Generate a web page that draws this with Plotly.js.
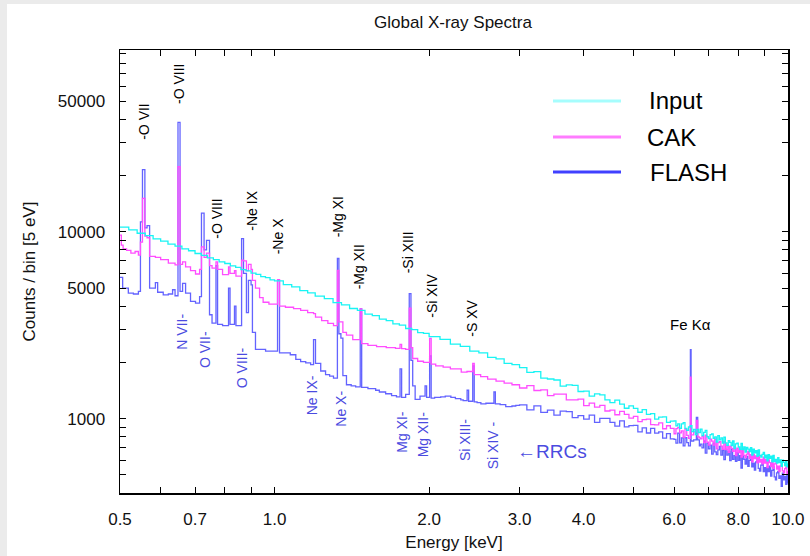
<!DOCTYPE html>
<html>
<head>
<meta charset="utf-8">
<script src="https://cdn.plot.ly/plotly-3.0.1.min.js"></script>
<style>
  html, body { margin: 0; padding: 0; background: #ebebeb; width: 810px; height: 556px; overflow: hidden; }
  #chart { position: absolute; left: 7px; top: 4px; width: 803px; height: 552px; background: #fff; }
</style>
</head>
<body>
<div id="chart"></div>
<script>
// ---------------- DATA ----------------
const xTickVals = [0.5, 0.6, 0.7, 0.8, 0.9, 1, 2, 3, 4, 5, 6, 7, 8, 9, 10];
const xTickText = ['0.5', '', '0.7', '', '', '1.0', '2.0', '3.0', '4.0', '', '6.0', '', '8.0', '', '10.0'];
const yTickVals = [400, 500, 600, 700, 800, 900, 1000, 2000, 3000, 4000, 5000, 6000, 7000, 8000, 9000,
                   10000, 20000, 30000, 40000, 50000, 60000, 70000, 80000, 90000];
const yTickText = ['', '', '', '', '', '', '1000', '', '', '', '5000', '', '', '', '',
                   '10000', '', '', '', '50000', '', '', '', ''];

const seriesNames = ['Input', 'CAK', 'FLASH'];

// Input spectrum (cyan)
const inputE = [0.50, 0.52, 0.54, 0.56, 0.58, 0.60, 0.62, 0.64, 0.66, 0.68, 0.70, 0.72, 0.74, 0.76, 0.78,
  0.80, 0.82, 0.84, 0.86, 0.88, 0.90, 0.92, 0.94, 0.96, 0.98, 1.00, 1.04, 1.08, 1.12, 1.16, 1.20, 1.25,
  1.30, 1.35, 1.40, 1.45, 1.50, 1.55, 1.60, 1.65, 1.70, 1.75, 1.80, 1.85, 1.90, 1.95, 2.00, 2.1, 2.2,
  2.3, 2.4, 2.5, 2.6, 2.7, 2.8, 2.9,
  3.0, 3.1, 3.2, 3.3, 3.4, 3.5, 3.6, 3.7, 3.8, 3.9, 4.0, 4.1, 4.2, 4.3, 4.4, 4.5, 4.6, 4.7, 4.8, 4.9,
  5.0, 5.1, 5.2, 5.3, 5.4, 5.5, 5.6, 5.7, 5.8, 5.9,
  6.00, 6.05, 6.10, 6.15, 6.20, 6.25, 6.30, 6.35, 6.40, 6.45, 6.50, 6.55, 6.60, 6.65, 6.70, 6.75, 6.80,
  6.85, 6.90, 6.95, 7.00, 7.05, 7.10, 7.15, 7.20, 7.25, 7.30, 7.35, 7.40, 7.45, 7.50, 7.55, 7.60, 7.65,
  7.70, 7.75, 7.80, 7.85, 7.90, 7.95, 8.00, 8.05, 8.10, 8.15, 8.20, 8.25, 8.30, 8.35, 8.40, 8.45, 8.50,
  8.55, 8.60, 8.65, 8.70, 8.75, 8.80, 8.85, 8.90, 8.95, 9.00, 9.05, 9.10, 9.15, 9.20, 9.25, 9.30, 9.35,
  9.40, 9.45, 9.50, 9.55, 9.60, 9.65, 9.70, 9.75, 9.80, 9.85, 9.90, 9.95, 10.0];
const inputCounts = [10600, 10250, 9830, 9540, 9170, 8930, 8600, 8390, 8100, 7920, 7660, 7490, 7260, 7110, 6900,
  6770, 6570, 6460, 6280, 6180, 6010, 5920, 5760, 5690, 5540, 5460, 5220, 5070, 4850, 4720, 4530, 4390,
  4180, 4070, 3890, 3800, 3630, 3560, 3410, 3350, 3220, 3170, 3040, 3000, 2890, 2860, 2750, 2660, 2510,
  2440, 2300, 2250, 2130, 2090, 1980, 1950,
  1877, 1770, 1788, 1650, 1632, 1612, 1496, 1519, 1510, 1399, 1404, 1320, 1359, 1342, 1261, 1220, 1258, 1197, 1138, 1172,
  1136, 1083, 1118, 1054, 1066, 994, 1019, 1023, 957, 971,
  975, 916, 938, 887, 939, 954, 889, 867, 903, 917, 854, 876, 822, 878, 844, 879, 812,
  846, 867, 801, 782, 823, 830, 786, 799, 750, 813, 771, 790, 741, 796, 743, 720, 764,
  747, 718, 760, 692, 734, 740, 706, 685, 738, 683, 706, 663, 703, 688, 667, 701, 638,
  687, 657, 675, 629, 682, 637, 623, 645, 661, 617, 639, 595, 642, 613, 630, 588, 637,
  590, 606, 579, 619, 583, 602, 557, 601, 584, 562, 596, 552, 577];

// CAK spectrum (magenta)
const cakE = [0.500, 0.503, 0.507, 0.515, 0.525, 0.535, 0.543, 0.548, 0.553, 0.559, 0.5645, 0.571, 0.586, 0.600,
  0.621, 0.640, 0.6485, 0.6545, 0.662, 0.671, 0.686, 0.7015, 0.7145, 0.7205, 0.729, 0.737, 0.747, 0.7555,
  0.769, 0.7745, 0.792, 0.8135, 0.819, 0.8355, 0.841, 0.8625, 0.870, 0.8815, 0.8895, 0.900, 0.9055, 0.918,
  0.935, 0.95, 0.975, 1.0135, 1.0225, 1.05, 1.089, 1.124, 1.16, 1.191, 1.2015, 1.235, 1.27, 1.3025, 1.3255,
  1.3345, 1.3585, 1.3805, 1.42, 1.4685, 1.478, 1.52, 1.58, 1.65, 1.72, 1.7555, 1.768, 1.80, 1.8295, 1.8435,
  1.858, 1.90, 1.95, 2.0045, 2.0185, 2.06, 2.13, 2.20, 2.31, 2.37, 2.432, 2.4485, 2.52, 2.60, 2.70, 2.80, 2.90,
  3.0, 3.1, 3.2, 3.3, 3.4, 3.5, 3.6, 3.7, 3.8, 3.9, 4.0, 4.1, 4.2, 4.3, 4.4, 4.5, 4.6, 4.7, 4.8, 4.9,
  5.0, 5.1, 5.2, 5.3, 5.4, 5.5, 5.6, 5.7, 5.8, 5.9,
  6.00, 6.05, 6.10, 6.15, 6.20, 6.25, 6.30, 6.35, 6.40, 6.455, 6.475, 6.55, 6.63, 6.67, 6.72,
  6.75, 6.80, 6.85, 6.90, 6.95, 7.00, 7.05, 7.10, 7.15, 7.20, 7.25, 7.30, 7.35, 7.40, 7.45, 7.50, 7.55,
  7.60, 7.65, 7.70, 7.75, 7.80, 7.85, 7.90, 7.95, 8.00, 8.05, 8.10, 8.15, 8.20, 8.25, 8.30, 8.35, 8.40,
  8.45, 8.50, 8.55, 8.60, 8.65, 8.70, 8.75, 8.80, 8.85, 8.90, 8.95, 9.00, 9.05, 9.10, 9.15, 9.20, 9.25,
  9.30, 9.35, 9.40, 9.45, 9.50, 9.55, 9.60, 9.65, 9.70, 9.75, 9.80, 9.85, 9.90, 9.95, 10.0];
const cakCounts = [9600, 8500, 8100, 7950, 7700, 7850, 7500, 8800, 15100, 9500, 9300, 7400, 7300, 7100,
  6800, 6650, 22300, 6700, 6900, 6500, 6200, 5950, 6300, 8300, 7300, 7700, 6600, 6400,
  6900, 6300, 5900, 6500, 6000, 6200, 5800, 7050, 7000, 6200, 6700, 6300, 5500, 5000,
  4450, 4200, 4100, 5550, 4000, 3950, 3880, 3800, 3700, 3650, 3500, 3350, 3240, 3150, 6220,
  3300, 2900, 2800, 2650, 3870, 2520, 2470, 2430, 2400, 2380, 2500, 2370, 2350, 3900, 2400,
  2100, 2030, 2000, 2690, 1960, 1920, 1890, 1850, 1775, 1790, 1975, 1720, 1680, 1630, 1590, 1550, 1520,
  1460, 1504, 1416, 1428, 1329, 1353, 1353, 1262, 1262, 1273, 1174, 1212, 1154, 1178, 1100, 1111, 1050, 1096, 1056, 1007,
  1030, 965, 990, 994, 931, 926, 951, 884, 917, 887,
  831, 886, 898, 840, 860, 794, 881, 815, 785, 1670, 820, 850, 980, 800, 790,
  780, 805, 745, 817, 750, 722, 778, 758, 723, 777, 691, 745, 754, 713, 686, 753, 684,
  715, 661, 713, 694, 669, 712, 634, 696, 658, 681, 624, 692, 636, 619, 647, 669, 614,
  642, 588, 646, 612, 632, 580, 643, 586, 606, 573, 623, 578, 604, 548, 602, 582, 555,
  597, 542, 573, 580, 538, 557, 521, 560, 573, 526, 513, 541, 553, 507, 525];

// FLASH spectrum (blue)
const flashE = [0.500, 0.506, 0.519, 0.531, 0.543, 0.548, 0.553, 0.559, 0.5645, 0.571, 0.586, 0.592, 0.607,
  0.621, 0.633, 0.640, 0.6485, 0.6545, 0.662, 0.671, 0.686, 0.7015, 0.7145, 0.7205, 0.729, 0.737, 0.747,
  0.7555, 0.769, 0.7745, 0.792, 0.8135, 0.819, 0.8355, 0.841, 0.8625, 0.870, 0.8815, 0.8895, 0.900, 0.9055,
  0.918, 0.9605, 1.0135, 1.0225, 1.073, 1.10, 1.124, 1.15, 1.1755, 1.191, 1.2015, 1.23, 1.257, 1.28, 1.3025,
  1.3255, 1.3345, 1.3465, 1.3585, 1.3805, 1.41, 1.4385, 1.4685, 1.478, 1.52, 1.5735, 1.60, 1.6455, 1.69,
  1.7275, 1.7555, 1.768, 1.800, 1.8295, 1.8435, 1.858, 1.8785, 1.92, 1.964, 1.9775, 2.0045, 2.0185, 2.05,
  2.1065, 2.15, 2.205, 2.25, 2.305, 2.33, 2.3715, 2.3875, 2.432, 2.4485, 2.48, 2.5225, 2.58, 2.6745, 2.692,
  2.75, 2.82, 2.9, 2.95,
  3.0, 3.1, 3.2, 3.3, 3.4, 3.5, 3.6, 3.7, 3.8, 3.9, 4.0, 4.1, 4.2, 4.3, 4.4, 4.5, 4.6, 4.7, 4.8, 4.9,
  5.0, 5.1, 5.2, 5.3, 5.4, 5.5, 5.6, 5.7, 5.8, 5.9,
  6.00, 6.05, 6.10, 6.15, 6.20, 6.25, 6.30, 6.35, 6.40, 6.455, 6.475, 6.55, 6.63, 6.67, 6.72,
  6.75, 6.80, 6.85, 6.90, 6.95, 7.00, 7.05, 7.10, 7.15, 7.20, 7.25, 7.30, 7.35, 7.40, 7.45, 7.50, 7.55,
  7.60, 7.65, 7.70, 7.75, 7.80, 7.85, 7.90, 7.95, 8.00, 8.05, 8.10, 8.15, 8.20, 8.25, 8.30, 8.35, 8.40,
  8.45, 8.50, 8.55, 8.60, 8.65, 8.70, 8.75, 8.80, 8.85, 8.90, 8.95, 9.00, 9.05, 9.10, 9.15, 9.20, 9.25,
  9.30, 9.35, 9.40, 9.45, 9.50, 9.55, 9.60, 9.65, 9.70, 9.75, 9.80, 9.85, 9.90, 9.95, 10.0];
const flashCounts = [5700, 5000, 4700, 4650, 4800, 11300, 21500, 10500, 10800, 5000, 5350, 4750, 4600,
  4650, 4900, 4550, 38500, 4800, 5300, 4700, 4250, 4150, 4500, 12600, 8000, 9000, 3600,
  3250, 6600, 3200, 3150, 5000, 3200, 4000, 3150, 9200, 6000, 3700, 5500, 5200, 2900,
  2350, 2300, 5500, 2250, 2200, 2080, 2020, 1990, 1950, 2650, 1980, 1800, 1720, 1690, 1650,
  7200, 2850, 2700, 1700, 1520, 1500, 1480, 3870, 1470, 1450, 1420, 1390, 1360, 1330,
  1310, 1850, 1300, 1350, 4670, 2050, 1500, 1270, 1320, 1500, 1300, 2170, 1290, 1300,
  1310, 1320, 1300, 1280, 1260, 1250, 1420, 1240, 1920, 1230, 1220, 1200, 1210, 1390, 1200,
  1190, 1160, 1170, 1180,
  1185, 1115, 1171, 1081, 1113, 1046, 1097, 1092, 1014, 1040, 995, 1045, 955, 1005, 1004, 955, 913, 974, 905, 918,
  922, 850, 893, 839, 889, 837, 850, 788, 833, 781,
  775, 740, 838, 743, 789, 715, 791, 745, 715, 2340, 760, 770, 1016, 770, 715,
  732, 699, 760, 654, 741, 691, 723, 646, 740, 664, 642, 682, 712, 638, 677, 604, 685,
  639, 668, 597, 685, 606, 635, 591, 659, 599, 635, 545, 634, 607, 572, 629, 556, 598,
  609, 553, 579, 531, 587, 605, 543, 525, 565, 583, 522, 547, 494, 553, 521, 558, 493,
  529, 552, 488, 471, 513, 522, 480, 495, 435, 512, 471, 491, 446, 502, 450];

// Text labels
const lineLabels = ['-O VII', '-O VIII', '-O VIII', '-Ne IX', '-Ne X', '-Mg XI', '-Mg XII', '-Si XIII', '-Si XIV', '-S XV'];
const rrcLabels = ['N VII-', 'O VII-', 'O VIII-', 'Ne IX-', 'Ne X-', 'Mg XI-', 'Mg XII-', 'Si XIII-', 'Si XIV -'];
const feLabel = 'Fe K\u03b1';
const rrcNote = '\u2190RRCs';

// ---------------- LAYOUT / STYLE ----------------
const FONT = 'Liberation Sans, Arial, Helvetica, sans-serif';
const colors = { Input: '#19f4f4', CAK: '#ff4dff', FLASH: 'rgba(55,55,255,0.78)' };
const legendColors = { Input: '#a6fdfd', CAK: '#ff7cff', FLASH: '#4040ff' };

// plot area in page pixels: x 120..788, y 50..493 (div offset 7,4)
const PX0 = 120, PX1 = 788, PY0 = 50, PY1 = 493;
const px = v => (v - PX0) / (PX1 - PX0);
const py = v => (PY1 - v) / (PY1 - PY0);

const traces = [
  { x: flashE, y: flashCounts, name: 'FLASH', type: 'scatter', mode: 'lines',
    line: { shape: 'hv', color: colors.FLASH, width: 1.3 }, showlegend: false },
  { x: cakE, y: cakCounts, name: 'CAK', type: 'scatter', mode: 'lines',
    line: { shape: 'hv', color: colors.CAK, width: 1.3 }, showlegend: false },
  { x: inputE, y: inputCounts, name: 'Input', type: 'scatter', mode: 'lines',
    line: { shape: 'hv', color: colors.Input, width: 1.3 }, showlegend: false }
];

const linePos = [[143.3, 121.5], [179, 84], [216.7, 219], [251.7, 211], [278.3, 236],
                 [338.3, 217], [359.3, 267], [408.3, 252], [431.7, 296], [471.7, 318]];
const rrcPos = [[181.7, 332], [205, 350], [241.7, 367.5], [312.3, 395], [340.7, 409],
                [401.7, 432], [423.3, 435], [465, 440], [493.3, 445]];

const annotations = [];
lineLabels.forEach((t, i) => annotations.push({
  text: t, xref: 'paper', yref: 'paper', x: px(linePos[i][0]), y: py(linePos[i][1]),
  xanchor: 'center', yanchor: 'middle', textangle: -90, showarrow: false,
  font: { family: FONT, size: 14, color: '#000' }
}));
rrcLabels.forEach((t, i) => annotations.push({
  text: t, xref: 'paper', yref: 'paper', x: px(rrcPos[i][0]), y: py(rrcPos[i][1]),
  xanchor: 'center', yanchor: 'middle', textangle: -90, showarrow: false,
  font: { family: FONT, size: 14, color: '#4b4be0' }
}));
annotations.push({ text: feLabel, xref: 'paper', yref: 'paper', x: px(690), y: py(324),
  xanchor: 'center', yanchor: 'middle', showarrow: false, font: { family: FONT, size: 15, color: '#000' } });
annotations.push({ text: rrcNote, xref: 'paper', yref: 'paper', x: px(551.7), y: py(451.7),
  xanchor: 'center', yanchor: 'middle', showarrow: false, font: { family: FONT, size: 19, color: '#4b4be0' } });

// manual legend
const legendY = { Input: 101, CAK: 137, FLASH: 172 };
const legendTextX = { Input: 647, CAK: 645, FLASH: 648 };
const shapes = [];
seriesNames.forEach(n => {
  shapes.push({ type: 'line', xref: 'paper', yref: 'paper', x0: px(553), x1: px(621),
    y0: py(legendY[n]), y1: py(legendY[n]), line: { color: legendColors[n], width: 3 } });
  annotations.push({ text: n, xref: 'paper', yref: 'paper', x: px(legendTextX[n]), y: py(legendY[n]),
    xanchor: 'left', yanchor: 'middle', showarrow: false, font: { family: FONT, size: 24, color: '#000' } });
});

const axisCommon = {
  showline: true, linecolor: '#000', linewidth: 1.5, mirror: 'allticks',
  ticks: 'inside', ticklen: 6, tickwidth: 1, tickcolor: '#000',
  showgrid: false, zeroline: false, tickmode: 'array',
  tickfont: { family: FONT, size: 17, color: '#111' }
};

const layout = {
  width: 803, height: 552,
  margin: { l: 113, r: 22, t: 46, b: 63 },
  paper_bgcolor: '#fff', plot_bgcolor: '#fff',
  showlegend: false,
  title: { text: 'Global X-ray Spectra', font: { family: FONT, size: 17, color: '#111' },
           xref: 'container', yref: 'container', x: (453 - 7) / 803, y: 1 - (22 - 4) / 552,
           xanchor: 'center', yanchor: 'middle' },
  xaxis: Object.assign({}, axisCommon, {
    type: 'log', range: [Math.log10(0.5), 1], tickvals: xTickVals, ticktext: xTickText,
    ticklabelstandoff: 10,
    title: { text: 'Energy [keV]', font: { family: FONT, size: 17, color: '#111' }, standoff: 8 }
  }),
  yaxis: Object.assign({}, axisCommon, {
    type: 'log', range: [2.6026, 4.973], tickvals: yTickVals, ticktext: yTickText,
    ticklabelstandoff: 10,
    title: { text: 'Counts / bin [5 eV]', font: { family: FONT, size: 17, color: '#111' }, standoff: 18 }
  }),
  annotations: annotations,
  shapes: shapes
};

Plotly.newPlot('chart', traces, layout, { staticPlot: true, displayModeBar: false });
</script>
</body>
</html>
